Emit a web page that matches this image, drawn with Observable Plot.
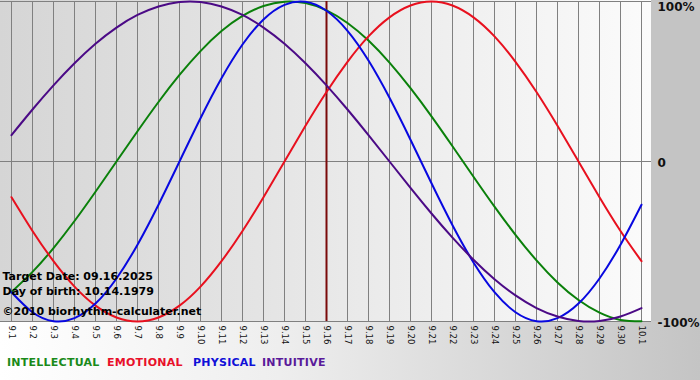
<!DOCTYPE html>
<html>
<head>
<meta charset="utf-8">
<script src="https://cdn.jsdelivr.net/npm/d3@7"></script>
<script src="https://cdn.jsdelivr.net/npm/@observablehq/plot@0.6"></script>
<style>
  html, body { margin: 0; padding: 0; }
  #wrap {
    position: relative; width: 700px; height: 380px; overflow: hidden;
    background:
      linear-gradient(to right, #d5d5d5, #fbfbfb) 0 0 / 651px 321px no-repeat,
      linear-gradient(#c4c4c4, #c4c4c4) 651px 0 / 49px 321px no-repeat,
      linear-gradient(to right, #ffffff 0%, #eeeeee 40%, #c4c4c4 100%) 0 321px / 700px 59px no-repeat;
    font-family: "DejaVu Sans", Verdana, sans-serif;
  }
  #chart svg { display: block; background: transparent; }
  #legend { position: absolute; left: 0; top: 356px; width: 700px; height: 16px; }
  #legend span {
    position: absolute; top: 0; line-height: 13px;
    font: bold 11px "DejaVu Sans", Verdana, sans-serif; letter-spacing: 0.25px; white-space: nowrap;
  }
</style>
</head>
<body>
<div id="wrap">
  <div id="chart"></div>
  <div id="legend"></div>
</div>
<script>
// Day labels (September 1 .. October 1, 2025)
const days = ["9.1","9.2","9.3","9.4","9.5","9.6","9.7","9.8","9.9","9.10",
  "9.11","9.12","9.13","9.14","9.15","9.16","9.17","9.18","9.19","9.20",
  "9.21","9.22","9.23","9.24","9.25","9.26","9.27","9.28","9.29","9.30","10.1"];

// Values (fraction of 100%)
const intellectual = [-0.815,-0.690,-0.541,-0.372,-0.189,0.000,0.189,0.372,0.541,0.690,
  0.815,0.910,0.972,0.999,0.990,0.945,0.866,0.756,0.618,0.458,
  0.282,0.095,-0.095,-0.282,-0.458,-0.618,-0.756,-0.866,-0.945,-0.990,-0.999];
const emotional = [-0.223,-0.434,-0.623,-0.782,-0.901,-0.975,-1.000,-0.975,-0.901,-0.782,
  -0.623,-0.434,-0.223,0.000,0.223,0.434,0.623,0.782,0.901,0.975,
  1.000,0.975,0.901,0.782,0.623,0.434,0.223,0.000,-0.223,-0.434,-0.623];
const physical = [-0.817,-0.942,-0.998,-0.979,-0.888,-0.731,-0.520,-0.270,0.000,0.270,
  0.520,0.731,0.888,0.979,0.998,0.942,0.817,0.631,0.398,0.136,
  -0.136,-0.398,-0.631,-0.817,-0.942,-0.998,-0.979,-0.888,-0.731,-0.520,-0.270];
const intuitive = [0.165,0.325,0.476,0.614,0.736,0.837,0.916,0.969,0.997,0.997,
  0.969,0.916,0.837,0.736,0.614,0.476,0.325,0.165,0.000,-0.165,
  -0.325,-0.476,-0.614,-0.736,-0.837,-0.916,-0.969,-0.997,-0.997,-0.969,-0.916];

const seriesNames = ["INTELLECTUAL","EMOTIONAL","PHYSICAL","INTUITIVE"];
const seriesColors = ["#0a800a","#e8101e","#0808e0","#4b0a86"];
const legendColors = ["#1a8a1a","#e8102a","#1010d8","#5a1a9a"];
const legendLeft = [7, 107, 193, 262];
const targetDay = "9.16";
const yTicks = [1, 0, -1];
const yTickLabels = ["100%", "0", "-100%"];
const infoLines = ["Target Date: 09.16.2025", "Day of birth: 10.14.1979", "\u00a92010 biorhythm-calculater.net"];

const seriesValues = [intellectual, emotional, physical, intuitive];
const rows = seriesNames.flatMap((s, k) => days.map((d, i) => ({series: s, day: d, value: seriesValues[k][i]})));
const yLab = yTicks.map((v, i) => ({v, label: yTickLabels[i]}));

const chart = Plot.plot({
  width: 700,
  height: 348,
  marginLeft: 0,
  marginRight: 49,
  marginTop: 1,
  marginBottom: 27,
  style: {background: "transparent", overflow: "visible"},
  x: {type: "point", domain: days, padding: 0},
  y: {domain: [-1, 1]},
  color: {domain: seriesNames, range: seriesColors},
  marks: [
    Plot.ruleX(days, {x: d => d, stroke: "#808080", strokeWidth: 1}),
    Plot.ruleY(yTicks, {stroke: "#808080", strokeWidth: 1}),
    Plot.ruleX([targetDay], {x: d => d, stroke: "#7a0a0a", strokeWidth: 2}),
    Plot.line(rows, {x: "day", y: "value", z: "series", stroke: "series", strokeWidth: 2, curve: "natural"}),
    Plot.axisX({tickRotate: 90, tickSize: 0, tickPadding: 4, fontSize: 8.5, fill: "#111", label: null}),
    Plot.axisY({ticks: [], label: null}),
    Plot.text(yLab.filter(d => d.v === 1), {y: "v", text: "label", frameAnchor: "right", dx: 6, dy: 6, textAnchor: "start", fontWeight: "bold", fontSize: 12, fill: "#111"}),
    Plot.text(yLab.filter(d => d.v !== 1), {y: "v", text: "label", frameAnchor: "right", dx: 6, dy: 1.5, textAnchor: "start", fontWeight: "bold", fontSize: 12, fill: "#111"}),
    Plot.text([infoLines[0]], {frameAnchor: "bottom-left", dx: 2, dy: -42, lineAnchor: "bottom", fontWeight: "bold", fontSize: 11, fill: "#000"}),
    Plot.text([infoLines[1]], {frameAnchor: "bottom-left", dx: 2, dy: -27, lineAnchor: "bottom", fontWeight: "bold", fontSize: 11, fill: "#000"}),
    Plot.text([infoLines[2]], {frameAnchor: "bottom-left", dx: 2, dy: -7, lineAnchor: "bottom", fontWeight: "bold", fontSize: 11, fill: "#000"})
  ]
});
chart.style.fontFamily = '"DejaVu Sans", Verdana, sans-serif';
document.getElementById("chart").appendChild(chart);

const legend = document.getElementById("legend");
seriesNames.forEach((s, k) => {
  const span = document.createElement("span");
  span.textContent = s;
  span.style.color = legendColors[k];
  span.style.left = legendLeft[k] + "px";
  legend.appendChild(span);
});
</script>
</body>
</html>
